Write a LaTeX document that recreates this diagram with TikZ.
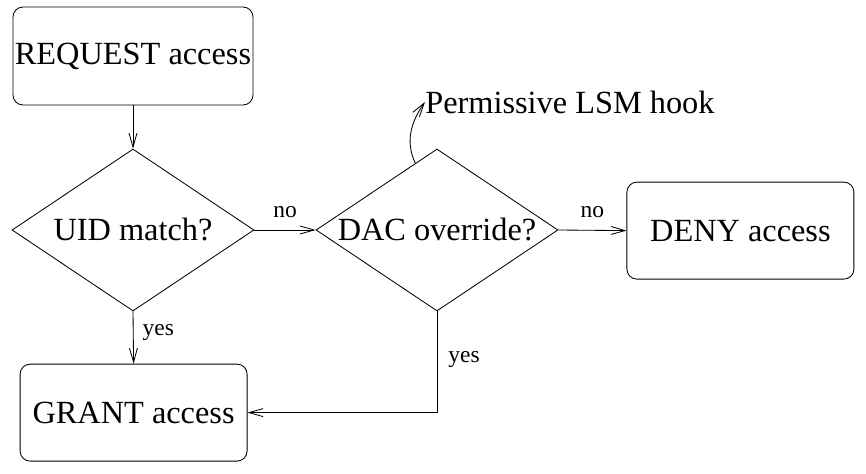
\documentclass[tikz,border=0pt]{standalone}
\usepackage{fontspec}
\setmainfont{Liberation Serif}
\usetikzlibrary{arrows.meta,shapes.geometric}

\begin{document}
\begin{tikzpicture}[
    box/.style={rectangle,rounded corners=2.5mm,draw,line width=0.6pt,inner sep=0pt,minimum width=5.675cm,minimum height=2.425cm,font=\fontsize{23}{27}\selectfont},
    decision/.style={diamond,draw,line width=0.6pt,inner sep=0pt,aspect=1.5,minimum width=6.05cm,minimum height=4.05cm,font=\fontsize{23}{27}\selectfont},
    lab/.style={inner sep=0pt,font=\fontsize{16.7}{19}\selectfont},
    flow/.style={line width=0.6pt,-{Straight Barb[length=3.5mm,width=2mm]}}]
    \useasboundingbox (0,0) rectangle (21.65,11.825);
    % nodes
    \node at (3.325,10.425) [box,minimum width=6cm,minimum height=2.45cm] (request) {REQUEST access};
    \node at (3.325,6.075) [decision] (uid) {UID match?};
    \node at (10.925,6.075) [decision] (dac) {DAC override?};
    \node at (18.51,6.06) [box] (deny) {DENY access};
    \node at (3.34,1.51) [box] (grant) {GRANT access};
    \node at (10.625,9.0) [anchor=base west,inner sep=0pt,font=\fontsize{23}{27}\selectfont] (hook) {Permissive LSM hook};
    % paths
    \draw[flow] (request.south) to (uid.north);
    \draw[flow] (uid.east) to node[lab,above=3mm] {no} (dac.west);
    \draw[flow] (dac.east) to node[lab,above=3mm] {no} (deny.west);
    \draw[flow] (uid.south) to node[lab,pos=0.4,right=2.25mm] {yes} (grant.north);
    \draw[flow] (dac.south) |- node[lab,pos=0.24,right=2.75mm] {yes} (grant.east);
    \draw[flow] (dac.108) to[out=115,in=235] (hook.west);
\end{tikzpicture}
\end{document}
